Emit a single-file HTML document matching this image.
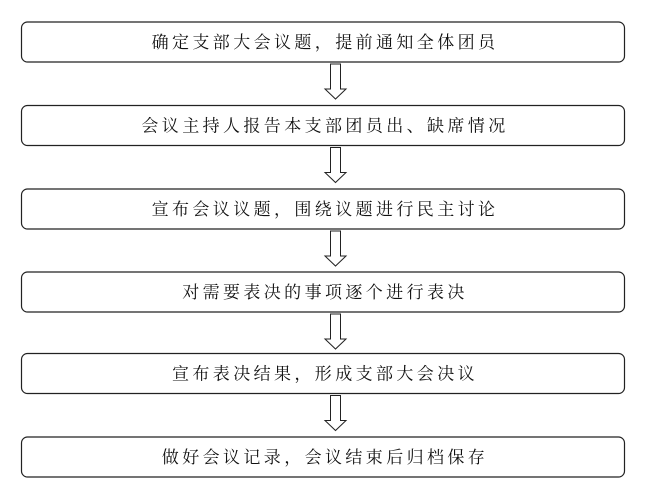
<!DOCTYPE html>
<html><head><meta charset="utf-8"><style>
html,body{margin:0;padding:0;background:#fff;}
svg{display:block}
text{font-family:"Liberation Serif","Noto Serif CJK SC","Noto Sans CJK SC",serif;font-size:17px;letter-spacing:3.4px;fill:#111;}
</style></head><body>
<svg width="652" height="499" xmlns="http://www.w3.org/2000/svg">
<g fill="#fff" stroke="#222" stroke-width="1.2">
<rect x="21.5" y="22" width="603" height="40" rx="6"/>
<rect x="21.5" y="105.5" width="603" height="40" rx="6"/>
<rect x="21.5" y="189" width="603" height="40" rx="6"/>
<rect x="21.5" y="272" width="603" height="40" rx="6"/>
<rect x="21.5" y="353.5" width="603" height="40" rx="6"/>
<rect x="21.5" y="437" width="603" height="40" rx="6"/>
</g>
<g fill="#fff" stroke="#222" stroke-width="1">
<path id="a" d="M330.5 64 H340.5 V89 H346 L335.5 99 L325 89 H330.5 Z"/>
<use href="#a" y="83.5"/>
<use href="#a" y="167"/>
<use href="#a" y="250"/>
<use href="#a" y="331.5"/>
</g>
<g text-anchor="middle">
<text x="325" y="48">确定支部大会议题，提前通知全体团员</text>
<text x="325" y="131.5">会议主持人报告本支部团员出、缺席情况</text>
<text x="325" y="215">宣布会议议题，围绕议题进行民主讨论</text>
<text x="325" y="298">对需要表决的事项逐个进行表决</text>
<text x="325" y="379.5">宣布表决结果，形成支部大会决议</text>
<text x="325" y="463">做好会议记录，会议结束后归档保存</text>
</g>
</svg>
</body></html>
